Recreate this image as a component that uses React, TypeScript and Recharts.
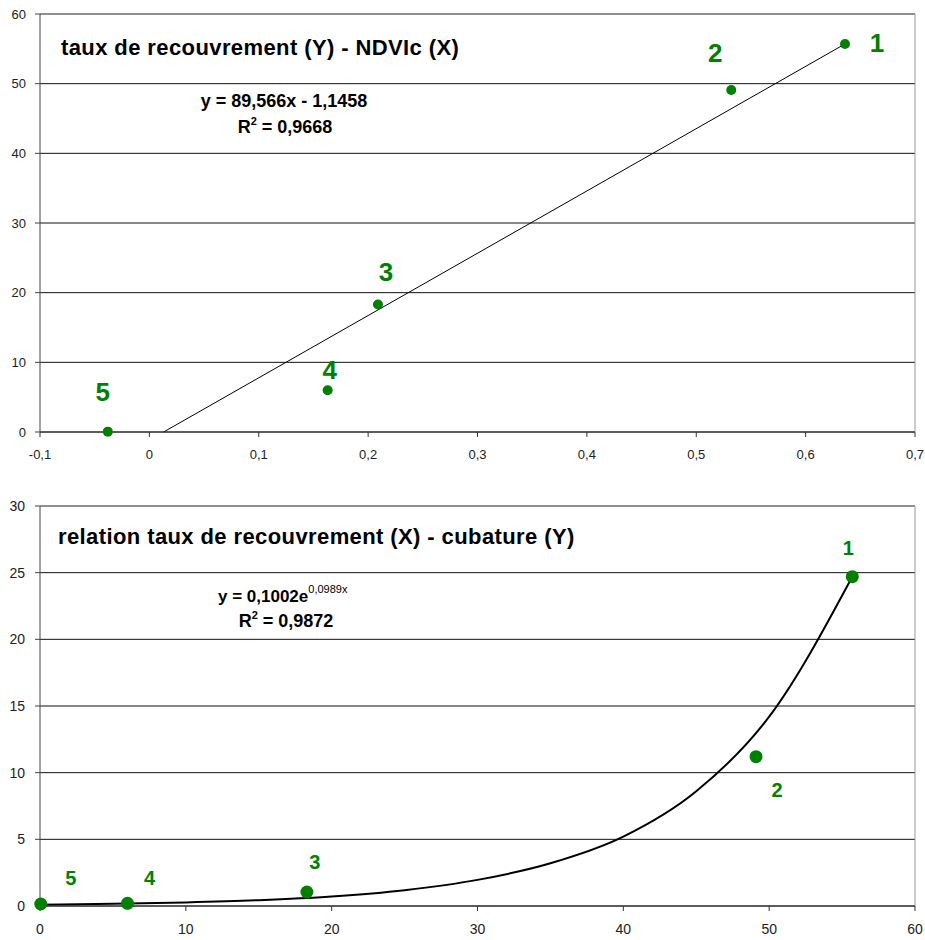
import {
  CartesianGrid,
  ComposedChart,
  Line,
  ReferenceLine,
  Scatter,
  XAxis,
  YAxis,
} from "recharts";

// plot ids and values
const pointIds = ["1", "2", "3", "4", "5"];
const ndviValues = [0.636, 0.532, 0.209, 0.163, -0.038];
const coverValues = [55.7, 49.1, 18.3, 6.0, 0.05];
const cubatureValues = [24.7, 11.2, 1.05, 0.2, 0.15];

// linear trend line (top chart), end points
const linearFitX = [0.013, 0.636];
const linearFitY = [0, 55.7];

// exponential trend curve (bottom chart)
const expFitX = [0, 5, 10, 15, 20, 25, 30, 35, 40, 45, 50, 55.7];
const expFitY = [0.1, 0.16, 0.27, 0.44, 0.72, 1.19, 1.96, 3.2, 5.2, 8.6, 14.2, 24.7];

const ndviTicks = [-0.1, 0, 0.1, 0.2, 0.3, 0.4, 0.5, 0.6, 0.7];
const coverTicks = [0, 10, 20, 30, 40, 50, 60];
const cubatureTicks = [0, 5, 10, 15, 20, 25, 30];

const topPoints = pointIds.map((id, i) => ({ id, x: ndviValues[i], y: coverValues[i] }));
const bottomPoints = pointIds.map((id, i) => ({ id, x: coverValues[i], y: cubatureValues[i] }));
const linearFit = linearFitX.map((x, i) => ({ x, y: linearFitY[i] }));
const expFit = expFitX.map((x, i) => ({ x, y: expFitY[i] }));

// label placement relative to each point (px)
const topLabelOffsets: Record<string, [number, number]> = {
  "1": [32, -1],
  "2": [-16, -37],
  "3": [8, -33],
  "4": [2, -21],
  "5": [-5, -40],
};
const bottomLabelOffsets: Record<string, [number, number]> = {
  "1": [-4, -29],
  "2": [21, 33],
  "3": [8, -30],
  "4": [22, -26],
  "5": [30, -26],
};

const FONT = "'Liberation Sans', Arial, sans-serif";
const GREEN = "#008000";

const comma = (v: number) => String(v).replace(".", ",");

function makeDot(r: number, fontSize: number, offsets: Record<string, [number, number]>) {
  return (props: any) => {
    const { cx, cy, payload } = props;
    const [dx, dy] = offsets[payload.id];
    return (
      <g>
        <circle cx={cx} cy={cy} r={r} fill={GREEN} />
        <text
          x={cx + dx}
          y={cy + dy + fontSize * 0.36}
          textAnchor="middle"
          fontSize={fontSize}
          fontWeight="bold"
          fill={GREEN}
          fontFamily={FONT}
        >
          {payload.id}
        </text>
      </g>
    );
  };
}

function TopChart() {
  return (
    <ComposedChart
      width={925}
      height={470}
      margin={{ top: 14, right: 10, bottom: 8, left: 0 }}
      style={{ fontFamily: FONT }}
    >
      <CartesianGrid vertical={false} stroke="#111" />
      <ReferenceLine y={60} stroke="#999" />
      <ReferenceLine x={0.7} stroke="#999" />
      <XAxis
        type="number"
        dataKey="x"
        domain={[-0.1, 0.7]}
        ticks={ndviTicks}
        interval={0}
        tickFormatter={comma}
        tickSize={5}
        tickMargin={13}
        height={30}
        axisLine={{ stroke: "#333" }}
        tickLine={{ stroke: "#333" }}
        tick={{ fill: "#222", fontSize: 13 }}
      />
      <YAxis
        type="number"
        dataKey="y"
        domain={[0, 60]}
        ticks={coverTicks}
        interval={0}
        tickSize={5}
        tickMargin={9}
        width={40}
        axisLine={{ stroke: "#444" }}
        tickLine={{ stroke: "#444" }}
        tick={{ fill: "#222", fontSize: 13 }}
      />
      <Line
        data={linearFit}
        dataKey="y"
        type="linear"
        stroke="#000"
        strokeWidth={1}
        dot={false}
        isAnimationActive={false}
      />
      <Scatter
        data={topPoints}
        dataKey="y"
        shape={makeDot(5, 26, topLabelOffsets)}
        isAnimationActive={false}
      />
    </ComposedChart>
  );
}

function BottomChart() {
  return (
    <ComposedChart
      width={925}
      height={470}
      margin={{ top: 36, right: 10, bottom: 4, left: 0 }}
      style={{ fontFamily: FONT }}
    >
      <CartesianGrid vertical={false} stroke="#111" />
      <ReferenceLine y={30} stroke="#999" />
      <ReferenceLine x={60} stroke="#999" />
      <XAxis
        type="number"
        dataKey="x"
        domain={[0, 60]}
        ticks={coverTicks}
        interval={0}
        tickSize={5}
        tickMargin={13}
        height={30}
        axisLine={{ stroke: "#333" }}
        tickLine={{ stroke: "#333" }}
        tick={{ fill: "#222", fontSize: 14 }}
      />
      <YAxis
        type="number"
        dataKey="y"
        domain={[0, 30]}
        ticks={cubatureTicks}
        interval={0}
        tickSize={5}
        tickMargin={10}
        width={40}
        axisLine={{ stroke: "#444" }}
        tickLine={{ stroke: "#444" }}
        tick={{ fill: "#222", fontSize: 14 }}
      />
      <Line
        data={expFit}
        dataKey="y"
        type="monotone"
        stroke="#000"
        strokeWidth={2}
        dot={false}
        isAnimationActive={false}
      />
      <Scatter
        data={bottomPoints}
        dataKey="y"
        shape={makeDot(6.5, 20, bottomLabelOffsets)}
        isAnimationActive={false}
      />
    </ComposedChart>
  );
}

export default function App() {
  return (
    <div style={{ position: "absolute", left: 0, top: 0, width: 925, height: 940, background: "#fff" }}>
      <div style={{ position: "absolute", left: 0, top: 0 }}>
        <TopChart />
      </div>
      <div style={{ position: "absolute", left: 0, top: 470 }}>
        <BottomChart />
      </div>
      <svg
        width={925}
        height={940}
        style={{ position: "absolute", left: 0, top: 0, pointerEvents: "none" }}
        fontFamily={FONT}
        fontWeight="bold"
        fill="#000"
      >
        <text x={61} y={55} fontSize={22} letterSpacing={0.4}>
          taux de recouvrement (Y) - NDVIc (X)
        </text>
        <text x={284} y={107} fontSize={18} textAnchor="middle">
          y = 89,566x - 1,1458
        </text>
        <text x={285} y={133} fontSize={18} textAnchor="middle">
          R<tspan fontSize={11} dy={-8}>2</tspan>
          <tspan dy={8}> = 0,9668</tspan>
        </text>

        <text x={58} y={544} fontSize={22} letterSpacing={0.4}>
          relation taux de recouvrement (X) - cubature (Y)
        </text>
        <text x={218} y={602} fontSize={17}>
          y = 0,1002e
          <tspan fontSize={11} fontWeight="normal" dy={-9}>0,0989x</tspan>
        </text>
        <text x={286} y={627} fontSize={18} textAnchor="middle">
          R<tspan fontSize={11} dy={-8}>2</tspan>
          <tspan dy={8}> = 0,9872</tspan>
        </text>
      </svg>
    </div>
  );
}
